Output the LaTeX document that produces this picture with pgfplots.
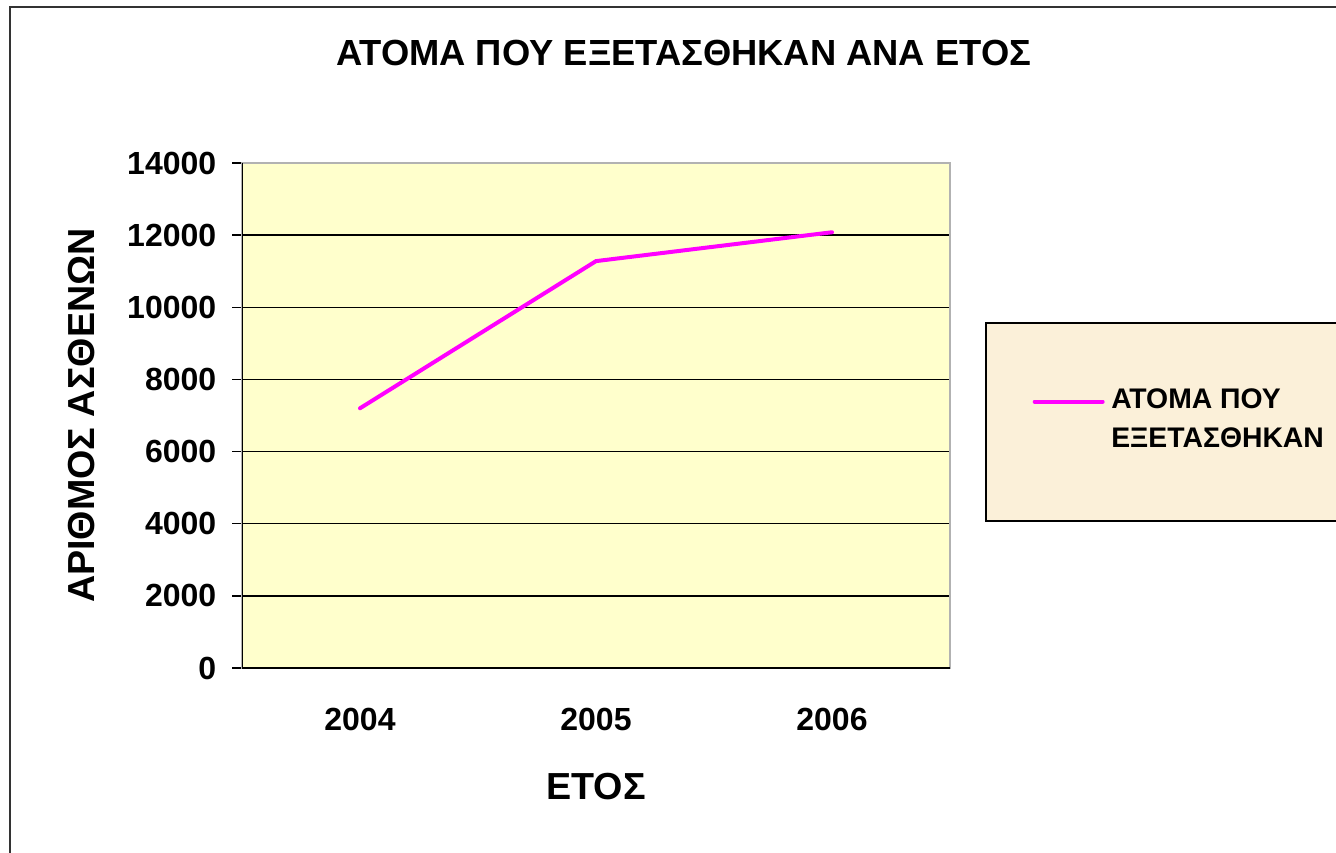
\documentclass[border=0pt]{standalone}
\usepackage{pgfplots}
\pgfplotsset{compat=1.18}
\usepackage{fontspec}
\setmainfont{Liberation Sans}
\definecolor{plotbg}{RGB}{255,255,204}
\definecolor{legbg}{RGB}{251,240,217}
\definecolor{mag}{RGB}{255,0,255}
\begin{document}
\begin{tikzpicture}
\useasboundingbox (0pt,0pt) rectangle (400.8pt,-255.9pt);
% outer chart frame (right and bottom edges fall outside the picture)
\draw[line width=0.6pt,black!80] (3pt,-260pt) -- (3pt,-2.1pt) -- (405pt,-2.1pt);
% legend box
\draw[line width=0.4pt,fill=legbg] (405pt,-96.9pt) -- (295.8pt,-96.9pt) -- (295.8pt,-156.3pt) -- (405pt,-156.3pt);
\begin{axis}[at={(72.6pt,-200.4pt)},anchor=south west,
  scale only axis,width=212.4pt,height=151.5pt,
  axis background/.style={fill=plotbg},
  xmin=-0.5,xmax=2.5,ymin=0,ymax=14000,
  xtick pos=bottom,ytick pos=left,
  xtick={0,1,2},xticklabels={2004,2005,2006},
  major x tick style={draw=none},
  xticklabel style={yshift=-5.4pt},
  extra x ticks={-0.5,0.5,1.5,2.5},extra x tick labels={},
  extra x tick style={major tick length=3.6pt,tick align=outside,
    major tick style={draw=black,line width=0.4pt},xmajorgrids=false},
  ytick={0,2000,...,14000},
  scaled y ticks=false,
  yticklabel style={/pgf/number format/1000 sep={},xshift=-1.2pt},
  ymajorgrids,grid style={black,line width=0.4pt},
  tick align=outside,major tick length=3pt,
  tick style={black,line width=0.4pt},
  axis line style={draw=gray!60,line width=0.5pt},
  /pgf/number format/assume math mode=true,
  tick label style={font=\fontsize{9.6}{11}\selectfont\bfseries},
  title={ΑΤΟΜΑ ΠΟΥ ΕΞΕΤΑΣΘΗΚΑΝ ΑΝΑ ΕΤΟΣ},
  title style={font=\fontsize{10.9}{13}\selectfont\bfseries,
    at={(0.624,1)},anchor=center,yshift=27pt},
  xlabel={ΕΤΟΣ},
  xlabel style={font=\fontsize{11.3}{13}\selectfont\bfseries,
    at={(0.5,0)},anchor=center,yshift=-35.7pt},
  ylabel={ΑΡΙΘΜΟΣ ΑΣΘΕΝΩΝ},
  ylabel style={font=\fontsize{11.3}{13}\selectfont\bfseries,
    at={(-0.226,0.5)},anchor=center},
  legend style={at={(1.1158,0.489)},anchor=west,draw=none,fill=none,
    inner sep=0pt,font=\fontsize{8.5}{11.7}\selectfont\bfseries,
    cells={align=left}},
  legend image code/.code={\draw[#1] (0pt,5.85pt) -- (20.4pt,5.85pt);},
]
\addplot[mag,line width=1.2pt,line cap=round] coordinates {
  (0,7200)(1,11280)(2,12080)};
\legend{ΑΤΟΜΑ ΠΟΥ\\ΕΞΕΤΑΣΘΗΚΑΝ}
\draw[black,line width=0.5pt] (rel axis cs:0,1) -- (rel axis cs:0,0) -- (rel axis cs:1,0);
\end{axis}
\end{tikzpicture}
\end{document}
